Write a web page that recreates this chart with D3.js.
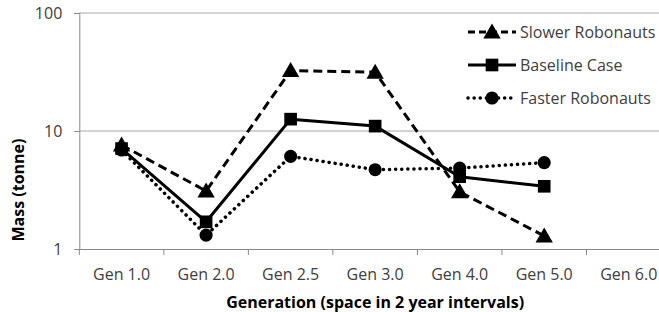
<!DOCTYPE html>
<html>
<head>
<meta charset="utf-8">
<script src="https://d3js.org/d3.v7.min.js"></script>
<style>
  body { margin: 0; background: #fff; }
  text { font-family: "Open Sans", sans-serif; }
</style>
</head>
<body>
<div id="chart"></div>
<script>
//
// Data
//
var categories = ["Gen 1.0", "Gen 2.0", "Gen 2.5", "Gen 3.0", "Gen 4.0", "Gen 5.0", "Gen 6.0"];
var slower   = [7.6, 3.1, 32.5, 31.5, 3.05, 1.29];
var baseline = [7.1, 1.7, 12.6, 11.0, 4.1, 3.4];
var faster   = [6.9, 1.31, 6.1, 4.7, 4.85, 5.4];
var yTicks = [1, 10, 100];

var seriesNames = ["Slower Robonauts", "Baseline Case", "Faster Robonauts"];

//
// Global Vars
//
var width = 659, height = 312;
var plot = { left: 79.3, right: 671, top: 13, bottom: 249 };

var svg = d3.select("#chart").append("svg")
    .attr("width", width)
    .attr("height", height);

var x = d3.scaleBand().domain(categories).range([plot.left, plot.right]);
var y = d3.scaleLog().domain([1, 100]).range([plot.bottom, plot.top]);

function cx(i) { return x(categories[i]) + x.bandwidth() / 2; }

// gridlines
svg.append("g").selectAll("line")
    .data(yTicks.slice(1))
    .enter().append("line")
    .attr("x1", plot.left).attr("x2", width)
    .attr("y1", function(d) { return y(d); })
    .attr("y2", function(d) { return y(d); })
    .attr("stroke", "#a6a6a6")
    .attr("stroke-width", 1);

// y axis
var yAxis = svg.append("g")
    .attr("transform", "translate(" + plot.left + ",0)")
    .call(d3.axisLeft(y).tickValues(yTicks).tickFormat(d3.format("d")).tickSize(5).tickPadding(12));

// x axis
var xAxis = svg.append("g")
    .attr("transform", "translate(0," + plot.bottom + ")")
    .call(d3.axisBottom(x).tickSize(0).tickPadding(20));

// category boundary ticks
xAxis.append("g").selectAll("line")
    .data(categories)
    .enter().append("line")
    .attr("x1", function(d) { return x(d); })
    .attr("x2", function(d) { return x(d); })
    .attr("y1", 0).attr("y2", 6)
    .attr("stroke", "#888");

[yAxis, xAxis].forEach(function(ax) {
    ax.select(".domain").attr("stroke", "#888").attr("stroke-width", 1);
    ax.selectAll(".tick line").attr("stroke", "#888");
    ax.selectAll(".tick text")
        .attr("fill", "#404040")
        .style("font-size", "16px")
        .style("font-family", "'Open Sans', sans-serif");
});
xAxis.select(".domain").attr("d", "M" + plot.left + ",0.5H" + width);

// axis titles
svg.append("text")
    .attr("transform", "translate(24," + y(Math.sqrt(10)) + ") rotate(-90)")
    .attr("text-anchor", "middle")
    .attr("font-weight", "bold")
    .style("font-size", "16px")
    .text("Mass (tonne)");

svg.append("text")
    .attr("x", (plot.left + plot.right) / 2)
    .attr("y", 308)
    .attr("text-anchor", "middle")
    .attr("font-weight", "bold")
    .style("font-size", "16px")
    .text("Generation (space in 2 year intervals)");

//
// series styling
//
var styles = {
    "Slower Robonauts": { dash: "9,5", cap: "butt", symbol: d3.symbolTriangle, size: 130 },
    "Baseline Case":    { dash: null, cap: "butt", symbol: d3.symbolSquare, size: 160 },
    "Faster Robonauts": { dash: "0.1,6", cap: "round", symbol: d3.symbolCircle, size: 135 }
};

var seriesData = {
    "Slower Robonauts": slower,
    "Baseline Case": baseline,
    "Faster Robonauts": faster
};

var line = d3.line()
    .x(function(d, i) { return cx(i); })
    .y(function(d) { return y(d); });

// draw order: faster, slower, baseline on top
["Faster Robonauts", "Slower Robonauts", "Baseline Case"].forEach(function(name) {
    var st = styles[name];
    var vals = seriesData[name];
    var g = svg.append("g");

    g.append("path")
        .attr("d", line(vals))
        .attr("fill", "none")
        .attr("stroke", "#000")
        .attr("stroke-width", name == "Faster Robonauts" ? 3.5 : 3)
        .attr("stroke-dasharray", st.dash)
        .attr("stroke-linecap", st.cap)
        .attr("stroke-linejoin", "round");

    g.selectAll("path.marker")
        .data(vals)
        .enter().append("path")
        .attr("class", "marker")
        .attr("d", d3.symbol().type(st.symbol).size(st.size))
        .attr("transform", function(d, i) {
            var dy = name == "Slower Robonauts" ? 1.5 : 0;
            return "translate(" + cx(i) + "," + (y(d) + dy) + ")";
        })
        .attr("fill", "#000");
});

//
// legend
//
var legend = svg.append("g").selectAll("g")
    .data(seriesNames)
    .enter().append("g")
    .attr("transform", function(d, i) { return "translate(468," + (32 + i * 33) + ")"; });

legend.append("line")
    .attr("x1", 0).attr("x2", 48)
    .attr("stroke", "#000")
    .attr("stroke-width", function(d) { return d == "Faster Robonauts" ? 3.5 : 3; })
    .attr("stroke-dasharray", function(d) { return styles[d].dash == "9,5" ? "7,4" : styles[d].dash; })
    .attr("stroke-linecap", function(d) { return styles[d].cap; });

legend.append("path")
    .attr("d", function(d) { return d3.symbol().type(styles[d].symbol).size(styles[d].size)(); })
    .attr("transform", function(d) { return "translate(24," + (d == "Slower Robonauts" ? 1.5 : 0) + ")"; })
    .attr("fill", "#000");

legend.append("text")
    .attr("x", 52)
    .attr("dy", "0.35em")
    .attr("fill", "#404040")
    .style("font-size", "16px")
    .text(function(d) { return d; });
</script>
</body>
</html>
